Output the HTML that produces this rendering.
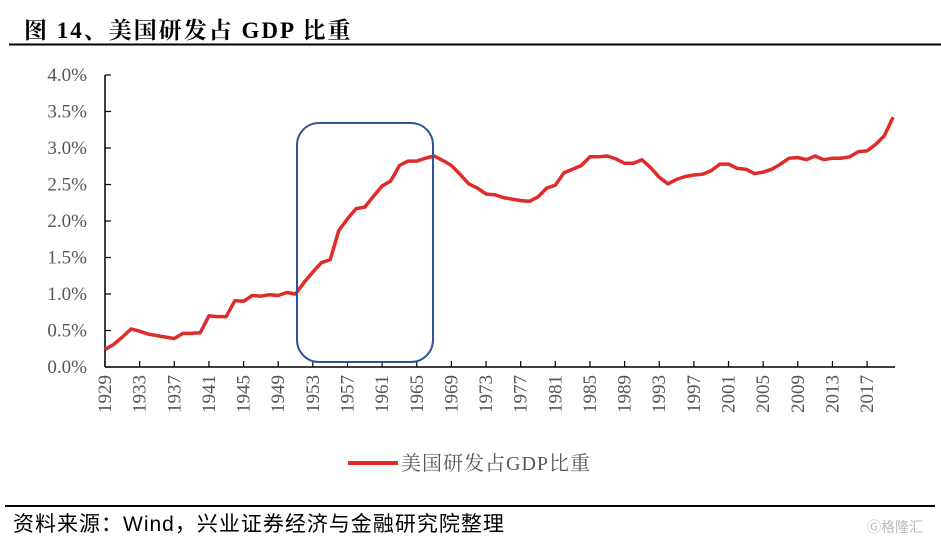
<!DOCTYPE html>
<html><head><meta charset="utf-8"><style>
body{margin:0;background:#fff;}
svg{display:block;}
</style></head><body>
<svg width="941" height="546" viewBox="0 0 941 546" xmlns="http://www.w3.org/2000/svg">
<text x="24" y="38" font-family="'Liberation Serif','Noto Serif CJK SC',serif" font-size="23" font-weight="bold" letter-spacing="2" fill="#000">图 14、美国研发占 GDP 比重</text>
<line x1="9" y1="44.5" x2="941" y2="44.5" stroke="#000" stroke-width="2"/>
<g id="axes"></g>
<g id="plot"></g>
<rect x="297" y="123" width="136" height="239" rx="22" ry="22" fill="none" stroke="#2f5597" stroke-width="2"/>
<line x1="348" y1="463" x2="398" y2="463" stroke="#e02b2b" stroke-width="4"/>
<text x="401" y="470" font-family="'Liberation Serif','Noto Serif CJK SC',serif" font-size="20" letter-spacing="1" fill="#555">美国研发占GDP比重</text>
<line x1="5" y1="506" x2="935" y2="506" stroke="#000" stroke-width="2"/>
<text x="13" y="531" font-family="'Liberation Sans','Noto Sans CJK SC',sans-serif" font-size="21" letter-spacing="1" fill="#000">资料来源：Wind，兴业证券经济与金融研究院整理</text>
<text x="867" y="532" font-family="'Liberation Sans','Noto Sans CJK SC',sans-serif" font-size="14" fill="#bbb">Ⓖ格隆汇</text>
</svg>
<script>
const years = [];
for (let y = 1929; y <= 2020; y++) years.push(y);
const rdShare = [0.24,0.31,0.41,0.52,0.49,0.45,0.43,0.41,0.39,0.46,0.46,0.47,0.70,0.69,0.69,0.91,0.90,0.98,0.97,0.99,0.98,1.02,1.00,1.16,1.30,1.43,1.47,1.87,2.03,2.17,2.19,2.34,2.48,2.55,2.76,2.82,2.82,2.86,2.89,2.83,2.76,2.64,2.51,2.45,2.37,2.36,2.32,2.30,2.28,2.27,2.33,2.45,2.49,2.66,2.71,2.76,2.88,2.88,2.89,2.85,2.79,2.79,2.84,2.73,2.60,2.51,2.57,2.61,2.63,2.64,2.69,2.78,2.78,2.72,2.71,2.65,2.67,2.71,2.78,2.86,2.87,2.84,2.89,2.84,2.86,2.86,2.88,2.95,2.96,3.05,3.17,3.42];
const yTicks = [0,0.5,1.0,1.5,2.0,2.5,3.0,3.5,4.0];
const yTickLabels = ["0.0%","0.5%","1.0%","1.5%","2.0%","2.5%","3.0%","3.5%","4.0%"];
const xTickYears = [1929,1933,1937,1941,1945,1949,1953,1957,1961,1965,1969,1973,1977,1981,1985,1989,1993,1997,2001,2005,2009,2013,2017];

const NS = "http://www.w3.org/2000/svg";
const X0 = 105, PX_PER_YEAR = 8.66, Y0 = 367, PX_PER_PCT = 73;
const xs = yr => X0 + (yr - 1929) * PX_PER_YEAR;
const ys = v => Y0 - v * PX_PER_PCT;
const axes = document.getElementById('axes');
const plot = document.getElementById('plot');
function mk(tag, attrs, parent){ const e=document.createElementNS(NS,tag); for(const k in attrs) e.setAttribute(k,attrs[k]); parent.appendChild(e); return e; }

const yAxis = mk('line',{x1:X0,y1:ys(4),x2:X0,y2:Y0,stroke:'#000','stroke-width':1.5},axes);


const xAxis = mk('line',{x1:X0,y1:Y0,x2:xs(2020)+2,y2:Y0,stroke:'#000','stroke-width':1.5},axes);



yTicks.forEach((v,i)=>{
  const t = mk('line',{x1:X0,y1:ys(v),x2:X0+6,y2:ys(v),stroke:'#000','stroke-width':1.2},axes);
  
  
  const l = mk('text',{x:87,y:ys(v)+6,'text-anchor':'end','font-family':"'Liberation Serif',serif",'font-size':19,fill:'#555'},axes);
  l.textContent = yTickLabels[i];
  
  
});
xTickYears.forEach(yr=>{
  const x = xs(yr);
  const t = mk('line',{x1:x,y1:Y0,x2:x,y2:Y0-6,stroke:'#000','stroke-width':1.2},axes);
  
  
  const l = mk('text',{x:0,y:0,'text-anchor':'end','font-family':"'Liberation Serif',serif",'font-size':19,fill:'#555',transform:`translate(${x+6},375) rotate(-90)`},axes);
  l.textContent = yr;
  
  
});
const d = years.map((yr,i)=>(i?'L':'M')+xs(yr).toFixed(1)+','+ys(rdShare[i]).toFixed(1)).join(' ');
const line = mk('path',{d:d,fill:'none',stroke:'#e02b2b','stroke-width':3.5,'stroke-linejoin':'round'},plot);


</script>
</body></html>
